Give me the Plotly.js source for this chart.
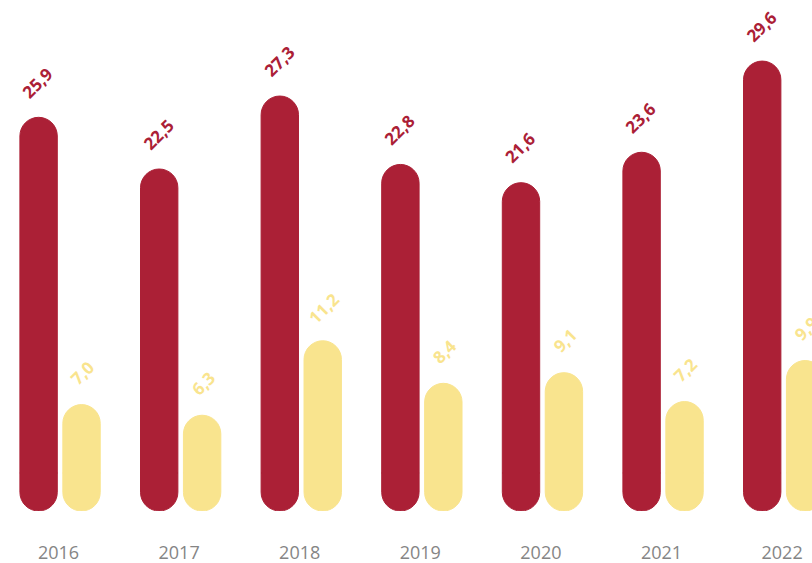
<!DOCTYPE html>
<html>
<head>
<meta charset="utf-8">
<script src="https://cdn.plot.ly/plotly-3.0.1.min.js"></script>
<style>
  html, body { margin: 0; padding: 0; background: #fff; }
  #chart { width: 812px; height: 563px; }
</style>
</head>
<body>
<div id="chart"></div>
<script>
var years = ['2016', '2017', '2018', '2019', '2020', '2021', '2022'];
var redValues = [25.9, 22.5, 27.3, 22.8, 21.6, 23.6, 29.6];
var yellowValues = [7.0, 6.3, 11.2, 8.4, 9.1, 7.2, 9.9];

var RED = '#ab2036';
var YELLOW = '#f9e48e';
// each pill = a bar stacked above 0 (rounded top) + a short bar below 0 (rounded bottom)
var FOOT = 2.5;

function fmt(v) {
    return v.toFixed(1).replace('.', ',');
}

function pill(values, color, xaxis, offset) {
    var common = {
        x: years,
        type: 'bar',
        xaxis: xaxis,
        offset: offset,
        width: 0.31,
        marker: { color: color, cornerradius: 19, line: { color: color, width: 1 } },
        hoverinfo: 'skip',
        showlegend: false
    };
    var top = Object.assign({}, common, { y: values.map(function (v) { return v - FOOT; }) });
    var bottom = Object.assign({}, common, { y: values.map(function () { return -FOOT; }) });
    return [top, bottom];
}

function labels(values, color, dx, dy) {
    return values.map(function (v, i) {
        return {
            x: i, // category index
            y: v - FOOT,
            xref: 'x',
            yref: 'y',
            text: fmt(v),
            showarrow: false,
            textangle: -45,
            xshift: dx,
            yshift: dy,
            font: { family: 'Open Sans', size: 17, color: color, weight: 700 }
        };
    });
}

var data = pill(redValues, RED, 'x', -0.32).concat(pill(yellowValues, YELLOW, 'x2', 0.036));

var xrange = [-0.485, 6.248];

var layout = {
    width: 812,
    height: 563,
    margin: { t: 0, l: 0, r: 0, b: 52 },
    paper_bgcolor: '#fff',
    plot_bgcolor: '#fff',
    barmode: 'relative',
    font: { family: 'Open Sans', color: '#858585' },
    xaxis: {
        type: 'category',
        range: xrange,
        showgrid: false,
        zeroline: false,
        showline: false,
        ticks: '',
        ticklabelstandoff: 29,
        tickfont: { family: 'Open Sans', size: 18, color: '#858585' }
    },
    xaxis2: {
        type: 'category',
        overlaying: 'x',
        range: xrange,
        visible: false
    },
    yaxis: {
        range: [-FOOT, 33.618 - FOOT],
        visible: false,
        showgrid: false,
        zeroline: false
    },
    annotations: labels(redValues, RED, -21, 35).concat(labels(yellowValues, YELLOW, 24, 32))
};

Plotly.newPlot('chart', data, layout, { displayModeBar: false, staticPlot: true });
</script>
</body>
</html>
